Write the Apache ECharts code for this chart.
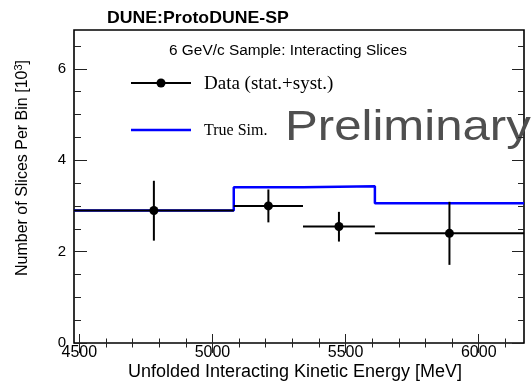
<!DOCTYPE html>
<html>
<head>
<meta charset="utf-8">
<script src="https://cdn.jsdelivr.net/npm/echarts@6/dist/echarts.min.js"></script>
<style>
  html, body { margin: 0; padding: 0; background: #fff; }
  #chart { width: 531px; height: 384px; }
</style>
</head>
<body>
<div id="chart"></div>
<script>
// Bin edges of the unfolded interacting kinetic energy [MeV]
const binEdges = [4480, 5080, 5340, 5610, 6170];
// Measured slices per bin [10^3] with stat.+syst. error band limits
const dataValues = [2.90, 3.00, 2.55, 2.40];
const dataErrLow = [2.24, 2.64, 2.22, 1.71];
const dataErrHigh = [3.55, 3.36, 2.87, 3.09];
// True simulation histogram [10^3]
const trueSimValues = [2.90, 3.41, 3.43, 3.06];
// Tick positions
const xMajorTicks = [4500, 5000, 5500, 6000];
const xMinorTicks = [4600, 4700, 4800, 4900, 5100, 5200, 5300, 5400, 5600, 5700, 5800, 5900, 6100];
const yMajorTicks = [0, 2, 4, 6];
const yMinorTicks = [0.5, 1, 1.5, 2.5, 3, 3.5, 4.5, 5, 5.5, 6.5];

const X_MIN = 4480, X_MAX = 6170, Y_MIN = 0, Y_MAX = 6.85;
const SANS = 'Liberation Sans';
const SERIF = 'Liberation Serif';
const TICK_COLOR = '#222';

// Step histogram: one point per bin edge, last edge repeats the last bin value
const simSteps = binEdges.map((e, i) => [e, trueSimValues[Math.min(i, trueSimValues.length - 1)]]);

// Error-bar records: [xLow, xHigh, xCenter, y, yLow, yHigh]
const dataRecords = dataValues.map((v, i) => [
  binEdges[i], binEdges[i + 1], (binEdges[i] + binEdges[i + 1]) / 2,
  v, dataErrLow[i], dataErrHigh[i]
]);

function makeAxis(kind, position, ticks, len, labels) {
  const ax = {
    type: 'value',
    position: position,
    min: kind === 'x' ? X_MIN : Y_MIN,
    max: kind === 'x' ? X_MAX : Y_MAX,
    axisLine: { show: false },
    splitLine: { show: false },
    axisTick: {
      show: true, inside: true, length: len, customValues: ticks,
      lineStyle: { color: TICK_COLOR, width: 1 }
    },
    axisLabel: { show: false }
  };
  if (labels) {
    ax.axisLabel = {
      show: true, customValues: labels,
      formatter: function (v) { return String(v); },
      fontFamily: SANS, fontSize: kind === 'x' ? 16 : 15, color: '#000',
      margin: kind === 'x' ? 2 : 8
    };
  }
  return ax;
}

const chart = echarts.init(document.getElementById('chart'), null, { renderer: 'canvas' });

chart.setOption({
  backgroundColor: '#fff',
  animation: false,
  grid: {
    left: 74, right: 7, top: 30, bottom: 41,
    show: true, borderColor: '#000', borderWidth: 1.6, backgroundColor: 'transparent'
  },
  xAxis: [
    makeAxis('x', 'bottom', xMajorTicks, 9, xMajorTicks),
    makeAxis('x', 'bottom', xMinorTicks, 4.5, null),
    makeAxis('x', 'top', xMajorTicks, 10, null),
    makeAxis('x', 'top', xMinorTicks, 4.5, null)
  ],
  yAxis: [
    makeAxis('y', 'left', yMajorTicks, 13, yMajorTicks),
    makeAxis('y', 'left', yMinorTicks, 7, null),
    makeAxis('y', 'right', yMajorTicks, 12, null),
    makeAxis('y', 'right', yMinorTicks, 6, null)
  ],
  graphic: [
    {
      type: 'text', x: 107, y: 18, scaleX: 1.04,
      style: { text: 'DUNE:ProtoDUNE-SP', fontFamily: SANS, fontWeight: 'bold', fontSize: 17,
               fill: '#000', align: 'left', verticalAlign: 'middle' }
    },
    {
      type: 'text', x: 169, y: 51, scaleX: 1.1,
      style: { text: '6 GeV/c Sample: Interacting Slices', fontFamily: SANS, fontSize: 14, fill: '#000',
               align: 'left', verticalAlign: 'middle' }
    },
    // Legend: data marker with error line
    { type: 'line', shape: { x1: 131, y1: 83, x2: 191, y2: 83 }, style: { stroke: '#000', lineWidth: 2 } },
    { type: 'circle', shape: { cx: 161, cy: 83, r: 4.5 }, style: { fill: '#000' } },
    {
      type: 'text', x: 204, y: 84,
      style: { text: 'Data (stat.+syst.)', fontFamily: SERIF, fontSize: 19, fill: '#000',
               align: 'left', verticalAlign: 'middle' }
    },
    // Legend: true simulation line
    { type: 'line', shape: { x1: 131, y1: 130, x2: 191, y2: 130 }, style: { stroke: '#0000ff', lineWidth: 2.5 } },
    {
      type: 'text', x: 204, y: 131,
      style: { text: 'True Sim.', fontFamily: SERIF, fontSize: 16, fill: '#000',
               align: 'left', verticalAlign: 'middle' }
    },
    {
      type: 'text', x: 285, y: 128, scaleX: 1.17,
      style: { text: 'Preliminary', fontFamily: SANS, fontSize: 42, fill: '#4f4f4f',
               align: 'left', verticalAlign: 'middle' }
    },
    // Axis titles
    {
      type: 'text', x: 295, y: 372,
      style: { text: 'Unfolded Interacting Kinetic Energy [MeV]', fontFamily: SANS, fontSize: 18, fill: '#000',
               align: 'center', verticalAlign: 'middle' }
    },
    {
      type: 'text', x: 23, y: 168, rotation: Math.PI / 2,
      style: {
        text: '{n|Number of Slices Per Bin [10}{s|3}{n|]}',
        align: 'center', verticalAlign: 'middle',
        rich: {
          n: { fontFamily: SANS, fontSize: 16, color: '#000', lineHeight: 20 },
          s: { fontFamily: SANS, fontSize: 11, color: '#000', lineHeight: 20, verticalAlign: 'top' }
        }
      }
    }
  ],
  series: [
    {
      name: 'True Sim.',
      type: 'line',
      step: 'end',
      symbol: 'none',
      data: simSteps,
      lineStyle: { color: '#0000ff', width: 2.5 },
      z: 2,
      clip: true
    },
    {
      name: 'Data (stat.+syst.)',
      type: 'custom',
      data: dataRecords,
      encode: { x: [0, 1, 2], y: [3, 4, 5] },
      z: 3,
      clip: true,
      renderItem: function (params, api) {
        const xl = api.value(0), xh = api.value(1), xc = api.value(2);
        const y = api.value(3), lo = api.value(4), hi = api.value(5);
        const pL = api.coord([xl, y]);
        const pR = api.coord([xh, y]);
        const pT = api.coord([xc, hi]);
        const pB = api.coord([xc, lo]);
        const pC = api.coord([xc, y]);
        const st = { stroke: '#000', lineWidth: 2 };
        return {
          type: 'group',
          children: [
            { type: 'line', shape: { x1: pL[0], y1: pL[1], x2: pR[0], y2: pR[1] }, style: st },
            { type: 'line', shape: { x1: pT[0], y1: pT[1], x2: pB[0], y2: pB[1] }, style: st },
            { type: 'circle', shape: { cx: pC[0], cy: pC[1], r: 4.5 }, style: { fill: '#000' } }
          ]
        };
      }
    }
  ]
});
</script>
</body>
</html>
